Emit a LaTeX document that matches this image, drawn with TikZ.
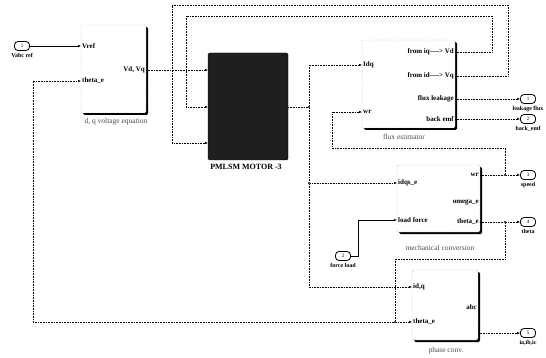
\documentclass[tikz,border=0pt]{standalone}
\usepackage{fontspec}
\setmainfont{Liberation Serif}
\usetikzlibrary{arrows.meta,positioning,shadows}

\begin{document}
\begin{tikzpicture}[x=1pt, y=-1pt,
    block/.style={draw=black!55, densely dotted, fill=white, rounded corners=1.5pt,
                  inner sep=0pt,
                  drop shadow={shadow xshift=2pt, shadow yshift=-2pt, fill=black, opacity=1}},
    motor/.style={draw=black, fill=black!88, inner sep=0pt, rounded corners=1.5pt},
    inport/.style={anchor=west, inner sep=1pt, font=\fontsize{7}{7}\selectfont\bfseries},
    outport/.style={anchor=east, inner sep=1pt, font=\fontsize{7}{7}\selectfont\bfseries},
    term/.style={draw, thick, rounded corners=3.5pt, minimum width=15pt, minimum height=9pt,
                 inner sep=0pt, font=\fontsize{5}{5}\selectfont},
    tag/.style={font=\fontsize{6}{6}\selectfont\bfseries, inner sep=0pt},
    caption/.style={font=\fontsize{7.5}{8}\selectfont, text=black!70, inner sep=0pt},
    sig/.style={densely dotted, semithick, -{Latex[length=3pt, width=2.6pt]}},
    wire/.style={semithick, -{Latex[length=3pt, width=2.6pt]}},
    line/.style={densely dotted, semithick},
    dot/.style={circle, fill, inner sep=0pt, minimum size=2.2pt}
  ]
    \useasboundingbox (0,0) rectangle (546,358);

    % Blocks
    \node[block, minimum width=65pt, minimum height=88pt] (volt) at (113.5,69) {};
    \node[caption] (voltlbl) at (116,122) {d, q voltage equation};
    \node[motor, minimum width=80pt, minimum height=107pt] (mot) at (248,106.5) {};
    \node[font=\fontsize{8}{8}\selectfont\bfseries, inner sep=0pt] (motlbl) at (246,167) {PMLSM MOTOR -3};
    \node[block, minimum width=93pt, minimum height=88pt] (flux) at (408.5,84) {};
    \node[caption] (fluxlbl) at (404,137) {flux estimator};
    \node[block, minimum width=83pt, minimum height=67pt] (mech) at (438.5,198.5) {};
    \node[caption] (mechlbl) at (440,248) {mechanical conversion};
    \node[block, minimum width=66pt, minimum height=70pt] (phase) at (445,305) {};
    \node[caption] (phaselbl) at (446,351) {phase conv.};

    % Ports of the blocks
    \node[inport] (vref) at (81,46) {Vref};
    \node[inport] (vth) at (81,81) {theta\_e};
    \node[outport] (vdq) at (146,70) {Vd, Vq};
    \coordinate (m1) at (208,70);
    \coordinate (m2) at (208,107);
    \coordinate (m3) at (208,143);
    \coordinate (mo) at (288,107);
    \node[inport] (idq) at (362,65) {Idq};
    \node[inport] (fwr) at (362,112) {wr};
    \node[outport] (fiq) at (455,52) {from iq----> Vd};
    \node[outport] (fid) at (455,76) {from id----> Vq};
    \node[outport] (fleak) at (455,99) {flux leakage};
    \node[outport] (femf) at (455,119) {back emf};
    \node[inport] (idqs) at (397,183) {idqs\_e};
    \node[inport] (lf) at (397,220) {load force};
    \node[outport] (mwr) at (480,175) {wr};
    \node[outport] (mom) at (480,202) {omega\_e};
    \node[outport] (mth) at (480,222) {theta\_e};
    \node[inport] (pdq) at (412,287) {id,q};
    \node[inport] (pth) at (412,322) {theta\_e};
    \node[outport] (pabc) at (478,307) {abc};
    \coordinate (po) at (478,333);

    % Terminals
    \node[term] (vabc) at (22,46) {1};
    \node[tag, below=2pt of vabc] (vabclbl) {Vabc ref};
    \node[term] (force) at (343,256) {2};
    \node[tag, below=2pt of force] (forcelbl) {force load};
    \node[term] (leak) at (528,99) {1};
    \node[tag, below=2pt of leak] (leaklbl) {leakage flux};
    \node[term] (emf) at (528,119) {2};
    \node[tag, below=2pt of emf] (emflbl) {back\_emf};
    \node[term] (speed) at (528,175) {3};
    \node[tag, below=2pt of speed] (speedlbl) {speed};
    \node[term] (theta) at (528,222) {4};
    \node[tag, below=2pt of theta] (thetalbl) {theta};
    \node[term] (iabc) at (528,333) {5};
    \node[tag, below=2pt of iabc] (iabclbl) {ia,ib,ic};

    % Branch points
    \node[dot] (j1) at (309,107) {};
    \node[dot] (j2) at (309,183) {};
    \node[dot] (j3) at (505,175) {};
    \node[dot] (j4) at (505,222) {};
    \node[dot] (j5) at (395,322) {};

    % Connectors
    \draw[wire] (vabc.east) -- (vref.west);
    \draw[sig] (vdq.east) -- (m1);
    \draw[sig] (fiq.east) -- ++(37,0) |- (186,16) |- (m2);
    \draw[sig] (fid.east) -- ++(53,0) |- (172,5) |- (m3);
    \draw[line] (mo) -- (j1);
    \draw[sig] (j1) |- (idq.west);
    \draw[line] (j1) -- (j2);
    \draw[sig] (j2) -- (idqs.west);
    \draw[sig] (j2) |- (pdq.west);
    \draw[sig] (fleak.east) -- (leak.west);
    \draw[sig] (femf.east) -- (emf.west);
    \draw[line] (mwr.east) -- (j3);
    \draw[sig] (j3) -- (speed.west);
    \draw[sig] (j3) |- (332,148) |- (fwr.west);
    \draw[line] (mth.east) -- (j4);
    \draw[sig] (j4) -- (theta.west);
    \draw[line] (j4) |- (395,259) -- (j5);
    \draw[sig] (j5) -- (pth.west);
    \draw[sig] (j5) -| (33,81) -- (vth.west);
    \draw[wire] (force.east) -| (358,220) -- (lf.west);
    \draw[sig] (po) -- (iabc.west);
\end{tikzpicture}
\end{document}
